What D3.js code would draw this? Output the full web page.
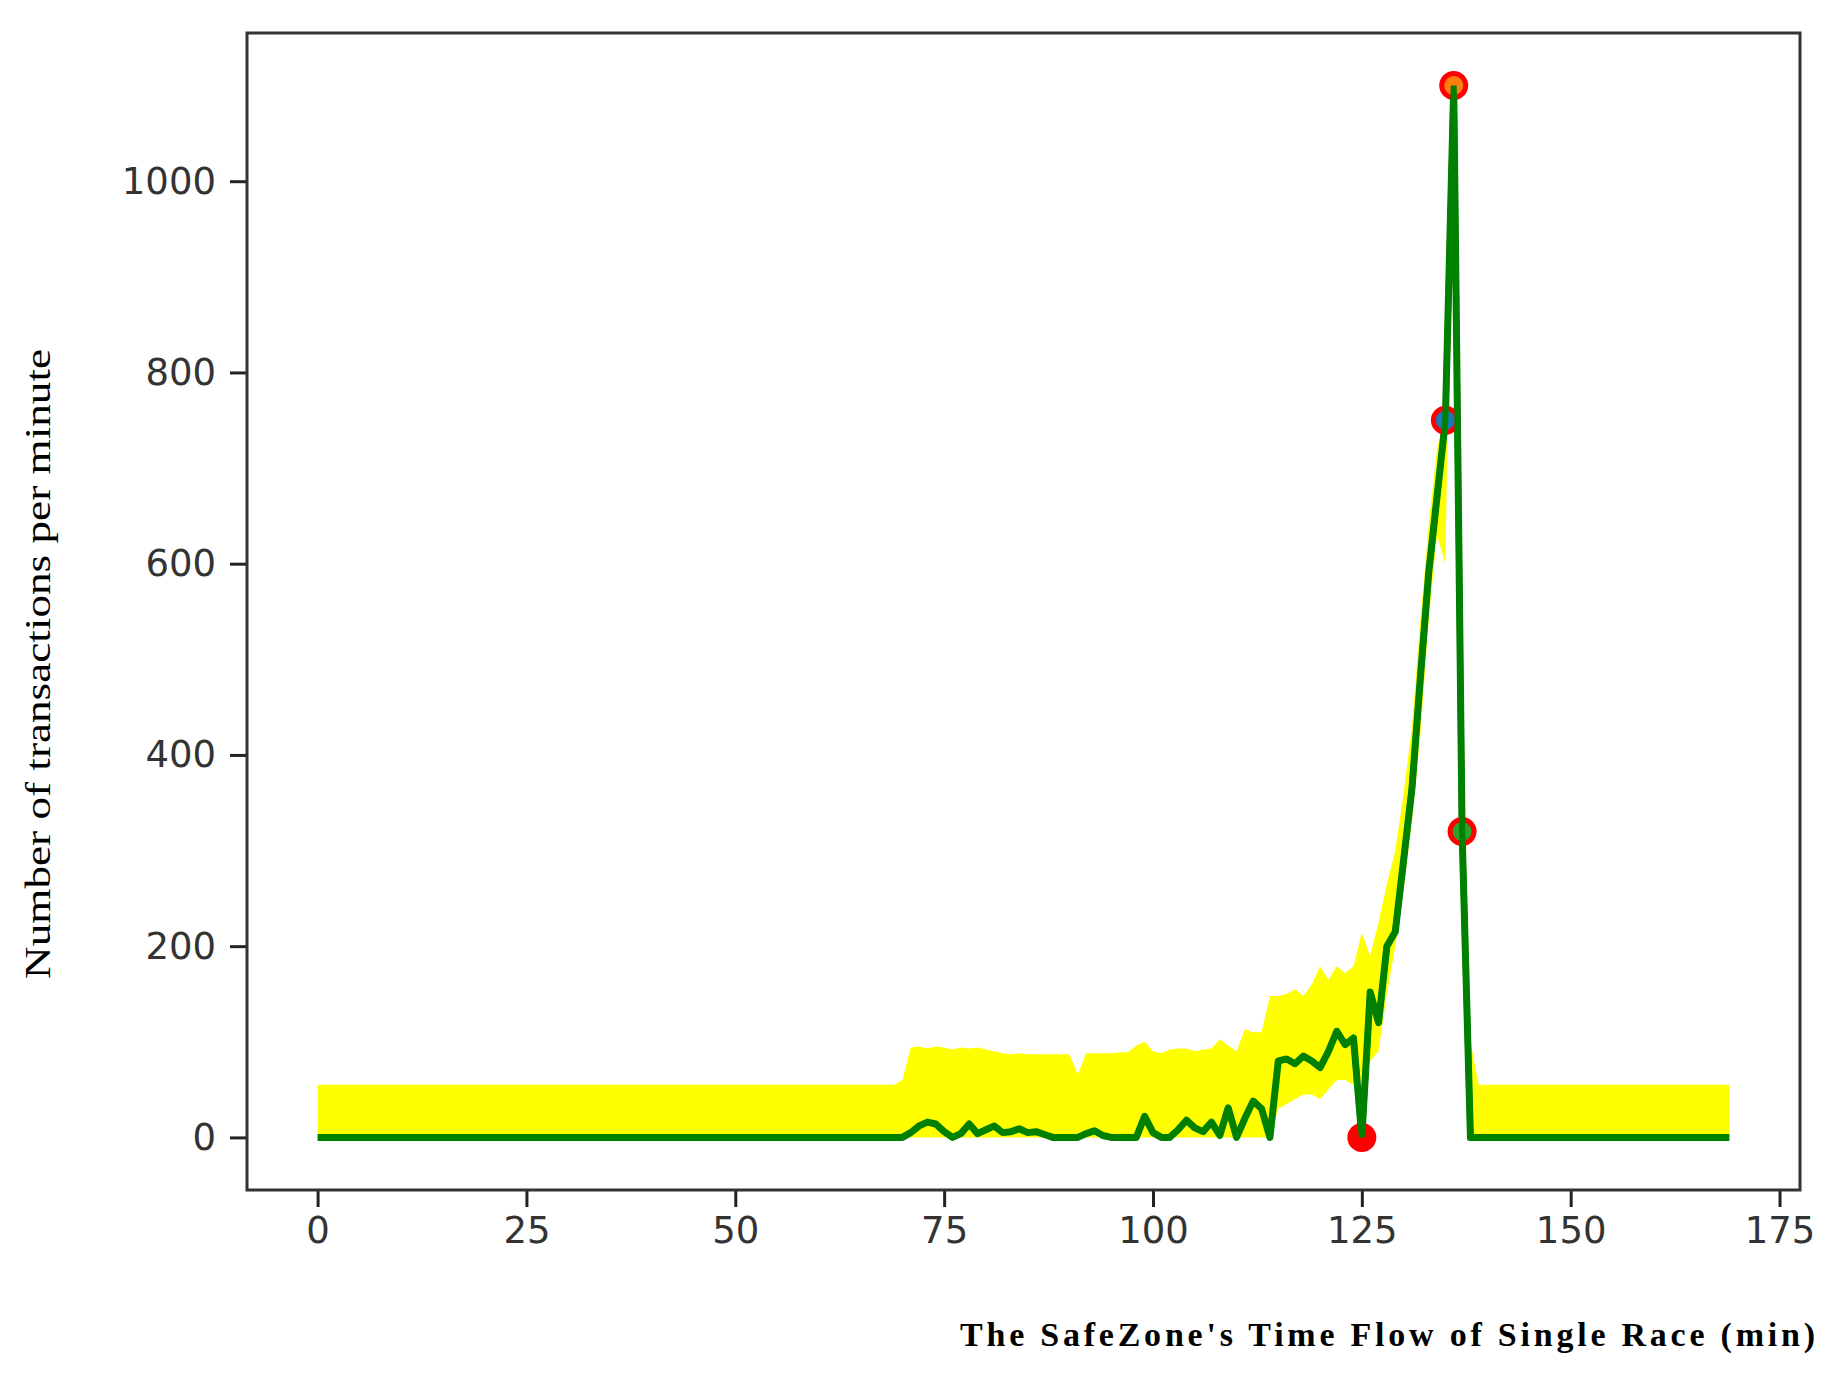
<!DOCTYPE html>
<html>
<head>
<meta charset="utf-8">
<script src="https://cdn.jsdelivr.net/npm/d3@7"></script>
<style>
  body { margin: 0; background: #fff; }
  svg { display: block; }
</style>
</head>
<body>
<svg id="chart" width="1832" height="1376"></svg>
<script>
// minutes 70..138; everything else is 0 (line) / 0..55 (band)
const activeStart = 70;
const lineActive = [0,5,12,16,14,6,0,4,14,4,8,12,5,6,9,5,6,3,0,0,0,0,4,7,2,0,0,0,0,22,
  5,0,0,8,18,10,6,16,2,31,0,20,38,30,0,80,82,77,85,80,73,90,111,97,104,0,152,120,200,215,
  290,365,480,590,670,750,1100,320,0];
const upperActive = [60,94,95,93,95,94,92,94,93,94,92,90,88,87,88,87,87,87,87,87,87,66,88,88,88,88,89,89,96,100,
  90,88,92,93,93,90,92,93,103,96,90,113,110,110,148,148,150,155,148,160,179,165,179,172,179,214,190,225,265,300,
  360,430,540,640,720,760,1100,320,100];
const lowerActive = [0,0,0,0,0,0,0,0,0,0,0,0,0,0,0,0,0,0,0,0,0,0,0,0,0,0,0,0,0,0,
  0,0,0,0,0,0,0,0,0,0,0,0,0,0,0,30,35,40,45,45,40,50,60,60,55,60,80,90,150,200,
  260,330,420,540,630,600,1100,320,0];
const lastMinute = 169;
const baseUpper = 55;
const markerX = [125, 135, 136, 137];
const markerY = [0, 750, 1100, 320];
const markerFill = ["#ff0000", "#1f77b4", "#ff7f0e", "#2ca02c"];
const yTicks = [0, 200, 400, 600, 800, 1000];
const xTicks = [0, 25, 50, 75, 100, 125, 150, 175];

const minutes = d3.range(0, lastMinute + 1);
const rows = minutes.map(m => {
  const i = m - activeStart;
  const inside = i >= 0 && i < lineActive.length;
  return {
    x: m,
    y: inside ? lineActive[i] : 0,
    hi: inside ? upperActive[i] : baseUpper,
    lo: inside ? lowerActive[i] : 0
  };
});

const svg = d3.select("#chart");
const plotLeft = 247, plotRight = 1800, plotTop = 33, plotBottom = 1190;

const x = d3.scaleLinear().domain([-8.45, 177.45]).range([plotLeft, plotRight]);
const y = d3.scaleLinear().domain([-55, 1155]).range([plotBottom, plotTop]);

svg.append("path")
  .datum(rows)
  .attr("fill", "#ffff00")
  .attr("d", d3.area().x(d => x(d.x)).y0(d => y(d.lo)).y1(d => y(d.hi)));

svg.append("path")
  .datum(rows)
  .attr("fill", "none")
  .attr("stroke", "#008000")
  .attr("stroke-width", 7)
  .attr("stroke-linejoin", "round")
  .attr("d", d3.line().x(d => x(d.x)).y(d => y(d.y)));

svg.append("g").selectAll("circle")
  .data(markerX)
  .join("circle")
  .attr("cx", d => x(d))
  .attr("cy", (d, i) => y(markerY[i]))
  .attr("r", 12)
  .attr("fill", (d, i) => markerFill[i])
  .attr("stroke", "#ff0000")
  .attr("stroke-width", 5);

// line passes over the marker centres in the picture
svg.append("path")
  .datum(rows.filter(d => d.x >= 124 && d.x <= 139))
  .attr("fill", "none")
  .attr("stroke", "#008000")
  .attr("stroke-width", 6)
  .attr("d", d3.line().x(d => x(d.x)).y(d => y(d.y)));

const yAxis = svg.append("g")
  .attr("transform", `translate(${plotLeft},0)`)
  .call(d3.axisLeft(y).tickValues(yTicks).tickFormat(d3.format("d")).tickSize(17).tickPadding(14));
const xAxis = svg.append("g")
  .attr("transform", `translate(0,${plotBottom})`)
  .call(d3.axisBottom(x).tickValues(xTicks).tickSize(17).tickPadding(10));

[xAxis, yAxis].forEach(g => {
  g.select(".domain").remove();
  g.selectAll(".tick line").attr("stroke", "#222").attr("stroke-width", 3);
  g.selectAll(".tick text")
    .attr("fill", "#333")
    .style("font-family", "DejaVu Sans")
    .style("font-size", "37px");
});

svg.append("rect")
  .attr("x", plotLeft).attr("y", plotTop)
  .attr("width", plotRight - plotLeft).attr("height", plotBottom - plotTop)
  .attr("fill", "none")
  .attr("stroke", "#333")
  .attr("stroke-width", 3);

svg.append("text")
  .attr("transform", "translate(38,664) rotate(-90)")
  .attr("text-anchor", "middle")
  .attr("dominant-baseline", "central")
  .attr("textLength", 630)
  .attr("lengthAdjust", "spacingAndGlyphs")
  .style("font-family", "Liberation Serif")
  .style("font-size", "36px")
  .text("Number of transactions per minute");

svg.append("text")
  .attr("x", 1815).attr("y", 1346)
  .attr("text-anchor", "end")
  .attr("textLength", 855)
  .attr("lengthAdjust", "spacing")
  .style("font-family", "Liberation Serif")
  .style("font-weight", "bold")
  .style("font-size", "34px")
  .text("The SafeZone's Time Flow of Single Race (min)");
</script>
</body>
</html>
